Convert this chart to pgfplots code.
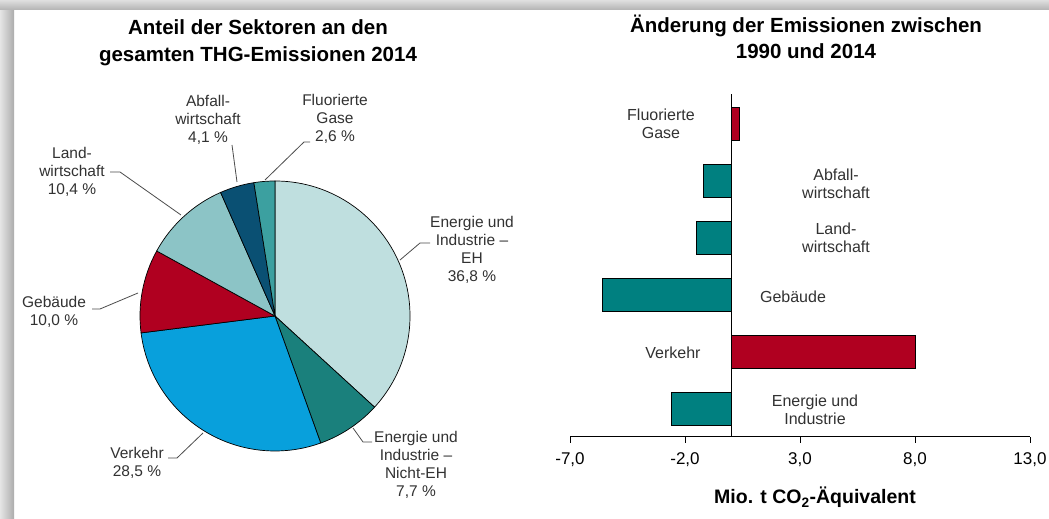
\documentclass[border=0pt]{standalone}
\usepackage{fontspec}
\setmainfont{Liberation Sans}
\usepackage{pgfplots}
\pgfplotsset{compat=1.18}
\definecolor{ehcol}{RGB}{191,223,223}
\definecolor{nehcol}{RGB}{26,128,124}
\definecolor{verkcol}{RGB}{8,160,220}
\definecolor{gebcol}{RGB}{176,0,32}
\definecolor{landcol}{RGB}{140,196,198}
\definecolor{abfcol}{RGB}{10,80,115}
\definecolor{fluorcol}{RGB}{60,160,160}
\definecolor{barteal}{RGB}{0,128,128}
\definecolor{barred}{RGB}{176,0,32}
\definecolor{txt}{RGB}{50,50,50}
% pie shares in percent (clockwise from 12 o'clock)
\def\pEH{36.8}\def\pNEH{7.7}\def\pVerk{28.5}\def\pGeb{10.0}\def\pLand{10.4}\def\pAbf{4.1}\def\pFl{2.6}
\pgfmathsetmacro\aO{90}
\pgfmathsetmacro\aA{\aO-3.6*\pEH}
\pgfmathsetmacro\aB{\aA-3.6*\pNEH}
\pgfmathsetmacro\aC{\aB-3.6*\pVerk}
\pgfmathsetmacro\aD{\aC-3.6*\pGeb}
\pgfmathsetmacro\aE{\aD-3.6*\pLand}
\pgfmathsetmacro\aF{\aE-3.6*\pAbf}
\pgfmathsetmacro\aG{-270}
\newcommand\lab{\fontsize{15.5}{18}\selectfont\color{txt}}
\newcommand\blab{\fontsize{16}{18.5}\selectfont\color{txt}}
\newcommand\ttl{\fontsize{20.5}{27}\selectfont\bfseries}
\begin{document}
\begin{tikzpicture}[x=1pt,y=1pt]
\useasboundingbox (0,0) rectangle (1049,519);
\fill[white] (0,0) rectangle (1049,519);
\shade[left color=gray!20, right color=gray!65] (0,0) rectangle (14,509);
\shade[top color=gray!25, bottom color=gray!60] (0,509) rectangle (1049,519);

% titles
\node[anchor=base, font=\ttl] at (258,484) {Anteil der Sektoren an den};
\node[anchor=base, font=\ttl] at (258,457) {gesamten THG-Emissionen 2014};
\node[anchor=base, font=\ttl] at (806,486) {Änderung der Emissionen zwischen};
\node[anchor=base, font=\ttl] at (806,460) {1990 und 2014};

% pie
\begin{axis}[at={(275pt,203pt)}, anchor=center, x=135pt, y=135pt,
  xmin=-1, xmax=1, ymin=-1, ymax=1, hide axis, clip=false]
\filldraw[fill=ehcol, draw=black, line width=0.7pt] (axis cs:0,0) -- (axis cs:{cos(\aO)},{sin(\aO)}) arc[start angle=\aO, end angle=\aA, radius=135pt] -- cycle;
\filldraw[fill=nehcol, draw=black, line width=0.7pt] (axis cs:0,0) -- (axis cs:{cos(\aA)},{sin(\aA)}) arc[start angle=\aA, end angle=\aB, radius=135pt] -- cycle;
\filldraw[fill=verkcol, draw=black, line width=0.7pt] (axis cs:0,0) -- (axis cs:{cos(\aB)},{sin(\aB)}) arc[start angle=\aB, end angle=\aC, radius=135pt] -- cycle;
\filldraw[fill=gebcol, draw=black, line width=0.7pt] (axis cs:0,0) -- (axis cs:{cos(\aC)},{sin(\aC)}) arc[start angle=\aC, end angle=\aD, radius=135pt] -- cycle;
\filldraw[fill=landcol, draw=black, line width=0.7pt] (axis cs:0,0) -- (axis cs:{cos(\aD)},{sin(\aD)}) arc[start angle=\aD, end angle=\aE, radius=135pt] -- cycle;
\filldraw[fill=abfcol, draw=black, line width=0.7pt] (axis cs:0,0) -- (axis cs:{cos(\aE)},{sin(\aE)}) arc[start angle=\aE, end angle=\aF, radius=135pt] -- cycle;
\filldraw[fill=fluorcol, draw=black, line width=0.7pt] (axis cs:0,0) -- (axis cs:{cos(\aF)},{sin(\aF)}) arc[start angle=\aF, end angle=\aG, radius=135pt] -- cycle;
\end{axis}

% pie leader lines
\begin{scope}[draw=black!70, line width=0.8pt]
\draw (310,377) -- (304,377) -- (265,339);
\draw (232,374) -- (237,337);
\draw (110,347) -- (120,347) -- (181,304);
\draw (430,276) -- (420,276) -- (400,259);
\draw (92,210) -- (100,210) -- (138,226);
\draw (168,61) -- (177,61) -- (203,86);
\draw (372,77) -- (363,77) -- (353,91);
\end{scope}

% pie labels
\node[align=center, font=\lab] at (335,400) {Fluorierte\\Gase\\2,6 \%};
\node[align=center, font=\lab] at (208,399) {Abfall-\\wirtschaft\\4,1 \%};
\node[align=center, font=\lab] at (72,347) {Land-\\wirtschaft\\10,4 \%};
\node[align=center, font=\lab] at (472,269) {Energie und\\Industrie --\\EH\\36,8 \%};
\node[align=center, font=\lab] at (54,207) {Gebäude\\10,0 \%};
\node[align=center, font=\lab] at (137,56) {Verkehr\\28,5 \%};
\node[align=center, font=\lab] at (416,54) {Energie und\\Industrie --\\Nicht-EH\\7,7 \%};

% bar chart
\begin{axis}[at={(570pt,82pt)}, anchor=south west, x=23pt, y=57pt,
  xmin=-7, xmax=13, ymin=-0.49, ymax=5.53,
  axis x line*=bottom, axis y line=none,
  xbar, bar width=33pt, bar shift=0pt,
  xtick={-7,-2,3,8,13}, xticklabels={{-7,0},{-2,0},{3,0},{8,0},{13,0}},
  ytick=\empty, tick align=outside, major tick length=6pt,
  every tick/.style={black, line width=1pt},
  axis line style={black, line width=1pt},
  xticklabel style={font=\fontsize{17}{20}\selectfont, yshift=-6pt},
  clip=false]
\addplot[xbar, bar shift=0pt, fill=barteal, draw=black, line width=0.6pt] coordinates {(-2.6,0) (-5.6,2) (-1.5,3) (-1.2,4)};
\addplot[xbar, bar shift=0pt, fill=barred, draw=black, line width=0.6pt] coordinates {(8.0,1) (0.35,5)};
\draw[black, line width=1pt] (axis cs:0,-0.49) -- (axis cs:0,5.53);
\end{axis}

% bar category labels
\node[align=center, font=\blab] at (661,395) {Fluorierte\\Gase};
\node[align=center, font=\blab] at (836,335) {Abfall-\\wirtschaft};
\node[align=center, font=\blab] at (836,281) {Land-\\wirtschaft};
\node[align=center, font=\blab] at (793,222) {Gebäude};
\node[align=center, font=\blab] at (673,166) {Verkehr};
\node[align=center, font=\blab] at (815,109) {Energie und\\Industrie};

\node[anchor=base, font=\fontsize{19.5}{22}\selectfont\bfseries] at (815,15) {Mio. t CO\textsubscript{2}-Äquivalent};
\end{tikzpicture}
\end{document}
